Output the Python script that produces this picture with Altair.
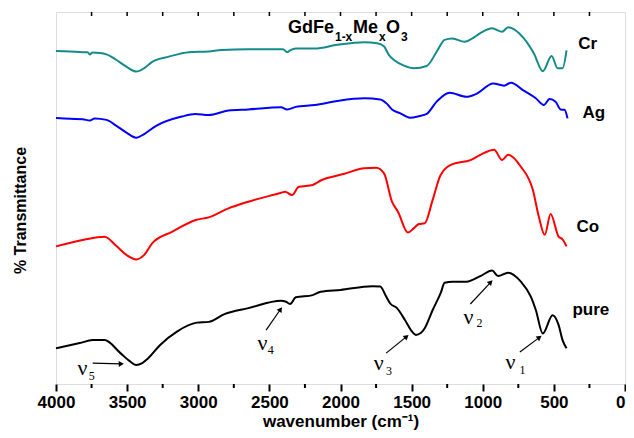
import altair as alt
import pandas as pd

# ---------------- data (wavenumber in cm-1, transmittance in arbitrary offset units) -------------
wn_cr = [4000, 3902, 3812, 3777, 3763, 3742, 3693, 3645, 3575, 3505, 3436, 3380, 3324, 3206, 3066,
         2927, 2836, 2648, 2404, 2376, 2355, 2314, 2181, 2021, 1833, 1742, 1693, 1659, 1624, 1554,
         1484, 1394, 1324, 1268, 1213, 1129, 1073, 1017, 934, 864, 822, 711, 641, 578, 516, 474, 439, 411]
t_cr = [89.5, 89.4, 89.2, 89.2, 88.6, 89.1, 89.0, 88.6, 87.1, 85.3, 84.0, 84.9, 86.6, 88.0, 89.2,
        89.4, 89.8, 90.0, 90.0, 89.2, 89.7, 90.2, 90.2, 91.2, 91.9, 91.6, 90.7, 88.4, 87.1, 85.6,
        84.9, 85.5, 89.3, 92.5, 92.9, 92.0, 92.9, 94.3, 95.6, 94.7, 95.9, 92.9, 88.9, 84.1, 88.2, 84.9, 84.9, 89.7]

wn_ag = [4000, 3902, 3812, 3763, 3728, 3645, 3575, 3505, 3436, 3380, 3296, 3115, 3021, 2927, 2788,
         2648, 2418, 2376, 2314, 2181, 2021, 1833, 1721, 1673, 1638, 1582, 1512, 1449, 1394, 1324,
         1233, 1115, 1045, 927, 850, 801, 718, 627, 571, 530, 488, 453, 425, 404]
t_ag = [71.5, 71.3, 71.2, 70.8, 71.4, 71.0, 69.4, 67.6, 66.2, 67.2, 69.4, 71.9, 72.6, 72.3, 73.5,
        73.8, 74.4, 73.8, 74.5, 75.0, 76.1, 76.8, 76.5, 75.3, 73.8, 72.8, 71.6, 72.0, 72.6, 75.9,
        78.3, 77.2, 78.0, 80.8, 80.2, 81.0, 79.0, 76.8, 75.0, 76.6, 75.9, 73.8, 73.7, 71.4]

wn_co = [4000, 3812, 3659, 3575, 3505, 3436, 3380, 3324, 3185, 3017, 2927, 2788, 2648, 2418, 2390,
         2341, 2293, 2195, 2139, 1972, 1833, 1749, 1694, 1638, 1596, 1526, 1484, 1449, 1408, 1352,
         1296, 1213, 1087, 1017, 920, 864, 822, 732, 648, 606, 564, 523, 467, 439, 411]
t_co = [37.0, 38.7, 39.6, 37.1, 34.7, 33.5, 34.7, 37.8, 40.9, 44.1, 44.8, 47.2, 49.0, 51.4, 51.7,
        50.8, 53.0, 53.5, 54.7, 56.5, 58.0, 58.1, 56.6, 49.0, 46.3, 40.7, 41.9, 43.0, 43.2, 49.5,
        56.2, 59.1, 60.2, 61.6, 63.0, 60.2, 61.6, 58.4, 52.2, 45.0, 40.1, 45.7, 39.6, 38.9, 37.0]

wn_pure = [4000, 3833, 3742, 3659, 3547, 3484, 3436, 3394, 3352, 3268, 3150, 3010, 2927, 2816, 2648,
           2418, 2383, 2355, 2314, 2195, 2139, 2000, 1777, 1721, 1679, 1652, 1603, 1547, 1505, 1470,
           1436, 1408, 1352, 1296, 1268, 1213, 1115, 1017, 934, 892, 822, 732, 662, 627, 578, 509,
           467, 439, 411]
t_pure = [9.6, 11.0, 11.8, 11.8, 8.3, 6.2, 5.1, 5.6, 6.9, 10.5, 14.1, 16.5, 16.7, 18.8, 20.4,
          22.4, 22.1, 21.5, 23.3, 23.9, 24.8, 25.3, 26.3, 26.2, 23.5, 21.7, 20.4, 17.2, 14.5, 13.2,
          13.7, 15.0, 19.9, 24.4, 27.2, 27.5, 27.5, 29.0, 30.5, 29.0, 29.9, 27.5, 23.5, 19.9, 13.6, 18.5,
          15.9, 11.8, 9.6]

series_names = ["Cr", "Ag", "Co", "pure"]
series_colors = ["#148b8b", "#0000ff", "#ff0000", "#000000"]

# series labels
label_text = ["Cr", "Ag", "Co", "pure"]
label_wn = [262, 220, 262, 240]
label_t = [91.4, 72.8, 42.2, 19.9]

# band annotations (nu_n)
nu_sub = ["5", "4", "3", "2", "1"]
nu_wn = [3814, 2548, 1732, 1100, 805]
nu_t = [4.3, 11.0, 5.6, 18.1, 6.0]
nu_sub_wn = [3770, 2512, 1680, 1044, 742]
nu_sub_t = [2.2, 9.1, 3.5, 16.4, 3.8]
arrow_wn = [3742, 2523, 1679, 1087, 739]
arrow_t = [5.6, 14.5, 8.3, 21.5, 8.6]
arrow_wn2 = [3547, 2425, 1540, 948, 606]
arrow_t2 = [5.4, 19.9, 12.6, 27.2, 12.4]
arrow_angle = [88, 35, 51, 44, 54]

# formula title pieces
title_main = ["GdFe", "Me", "O"]
title_main_wn = [2369, 1912, 1680]
title_sub = ["1-x", "x", "3"]
title_sub_wn = [2039, 1729, 1575]
title_main_t = 94.4
title_sub_t = 92.2

major_ticks = list(range(0, 4001, 500))
minor_ticks = list(range(250, 4000, 500))
top_ticks = list(range(250, 4000, 250))

# ---------------- build tables -------------
rows = []
for name, xs, ys in zip(series_names, [wn_cr, wn_ag, wn_co, wn_pure], [t_cr, t_ag, t_co, t_pure]):
    for i, (x, y) in enumerate(zip(xs, ys)):
        rows.append({"series": name, "wn": x, "T": y, "idx": i})
df = pd.DataFrame(rows)

labels_df = pd.DataFrame({"label": label_text, "wn": label_wn, "T": label_t})
nu_df = pd.DataFrame({"wn": nu_wn, "T": nu_t, "txt": ["ν"] * len(nu_wn)})
nusub_df = pd.DataFrame({"wn": nu_sub_wn, "T": nu_sub_t, "txt": nu_sub})
arrow_df = pd.DataFrame({"wn": arrow_wn, "T": arrow_t, "wn2": arrow_wn2, "T2": arrow_t2, "ang": arrow_angle})
tmain_df = pd.DataFrame({"wn": title_main_wn, "T": [title_main_t] * 3, "txt": title_main})
tsub_df = pd.DataFrame({"wn": title_sub_wn, "T": [title_sub_t] * 3, "txt": title_sub})
minor_df = pd.DataFrame({"wn": minor_ticks})
top_df = pd.DataFrame({"wn": top_ticks})

xscale = alt.Scale(domain=[4000, 0], nice=False, zero=False)
yscale = alt.Scale(domain=[0, 100], nice=False, zero=False)

x_axis = alt.Axis(values=major_ticks, format="d", grid=False, domain=False, labelFlush=False,
                  labelAlign={"condition": {"test": "datum.value == 0", "value": "right"}, "value": "center"},
                  tickSize=7, tickWidth=2, tickColor="black",
                  labelFont="Liberation Sans", labelFontSize=17, labelFontWeight="bold",
                  labelColor="black", labelPadding=3,
                  title="wavenumber (cm⁻¹)", titleFont="Liberation Sans", titleFontSize=17,
                  titleFontWeight="bold", titleColor="black", titleY=42, titleBaseline="alphabetic")
y_axis = alt.Axis(labels=False, ticks=False, domain=False, grid=False,
                  title="% Transmittance", titleFont="Liberation Sans", titleFontSize=16,
                  titleFontWeight="bold", titleColor="black", titleX=-36, titleY=198,
                  titleBaseline="middle", titleAngle=270)

X = alt.X("wn:Q", scale=xscale, axis=x_axis)
Y = alt.Y("T:Q", scale=yscale, axis=y_axis)

lines = alt.Chart(df).mark_line(strokeWidth=2, interpolate="monotone").encode(
    x=X, y=Y,
    color=alt.Color("series:N", scale=alt.Scale(domain=series_names, range=series_colors), legend=None),
    order="idx:Q",
    detail="series:N",
)

labels = alt.Chart(labels_df).mark_text(font="Liberation Sans", fontSize=17, fontWeight="bold",
                                        color="black", align="center", baseline="middle").encode(
    x="wn:Q", y="T:Q", text="label:N")

nu = alt.Chart(nu_df).mark_text(font="Liberation Serif", fontSize=22, color="black",
                                align="center", baseline="middle").encode(x="wn:Q", y="T:Q", text="txt:N")
nusub = alt.Chart(nusub_df).mark_text(font="Liberation Serif", fontSize=12, color="black",
                                      align="left", baseline="middle").encode(x="wn:Q", y="T:Q", text="txt:N")

arrows = alt.Chart(arrow_df).mark_rule(strokeWidth=1.2, color="black").encode(
    x="wn:Q", y="T:Q", x2="wn2:Q", y2="T2:Q")
heads = alt.Chart(arrow_df).mark_point(shape="triangle", filled=True, size=35, color="black", opacity=1).encode(
    x="wn2:Q", y="T2:Q", angle=alt.Angle("ang:Q", scale=None))

tmain = alt.Chart(tmain_df).mark_text(font="Liberation Sans", fontSize=18, fontWeight="bold", color="black",
                                      align="left", baseline="alphabetic").encode(x="wn:Q", y="T:Q", text="txt:N")
tsub = alt.Chart(tsub_df).mark_text(font="Liberation Sans", fontSize=12, fontWeight="bold", color="black",
                                    align="left", baseline="alphabetic").encode(x="wn:Q", y="T:Q", text="txt:N")

minor = alt.Chart(minor_df).mark_rule(strokeWidth=2, color="black").encode(
    x="wn:Q", y=alt.value(372), y2=alt.value(376))
top = alt.Chart(top_df).mark_rule(strokeWidth=1.5, color="black").encode(
    x="wn:Q", y=alt.value(0), y2=alt.value(4))

chart = alt.layer(lines, labels, nu, nusub, arrows, heads, tmain, tsub, minor, top).properties(
    width=569, height=372,
    autosize=alt.AutoSizeParams(type="none"),
    padding={"left": 48, "top": 4, "right": 1, "bottom": 46},
).configure_view(stroke="black", strokeWidth=2).configure(background="white")

chart.save("out.html", embed_options={"renderer": "svg", "actions": False})
